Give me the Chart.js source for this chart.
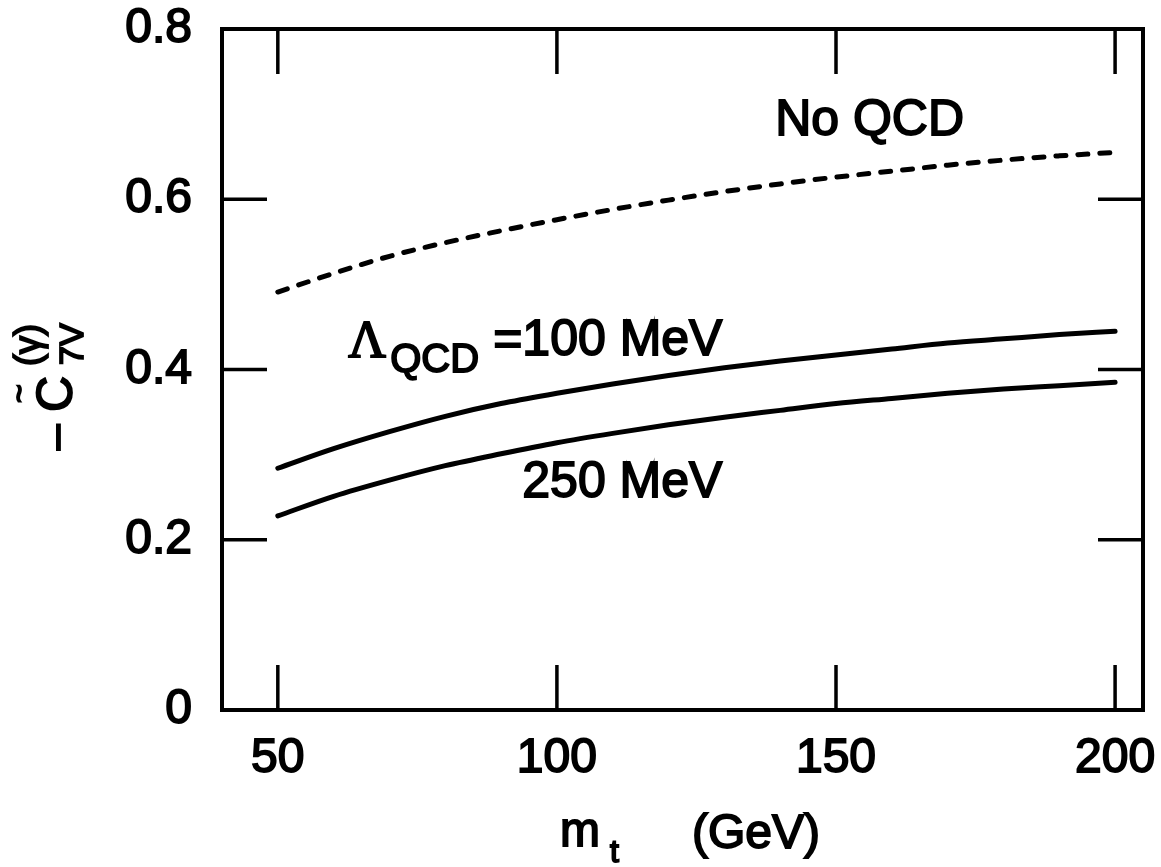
<!DOCTYPE html>
<html><head><meta charset="utf-8">
<script src="https://cdn.jsdelivr.net/npm/chart.js@4.4.0/dist/chart.umd.min.js"></script>
<style>html,body{margin:0;padding:0;background:#fff;}#wrap{width:1161px;height:867px;}</style>
</head><body><div id="wrap"><canvas id="c" width="1161" height="867"></canvas></div>
<script>
// ---- data ----
const mt        = [50, 60, 70, 80, 90, 100, 110, 120, 130, 140, 150, 160, 170, 180, 190, 200];
const noQCD     = [0.491, 0.513, 0.533, 0.549, 0.563, 0.576, 0.588, 0.599, 0.609, 0.618, 0.626, 0.633, 0.640, 0.646, 0.651, 0.655];
const lam100    = [0.284, 0.307, 0.327, 0.345, 0.360, 0.372, 0.383, 0.393, 0.402, 0.410, 0.417, 0.424, 0.431, 0.436, 0.441, 0.445];
const lam250    = [0.228, 0.251, 0.270, 0.287, 0.301, 0.314, 0.325, 0.335, 0.344, 0.352, 0.360, 0.366, 0.372, 0.377, 0.381, 0.385];
const xTicks    = [50, 100, 150, 200];
const yTicks    = [0, 0.2, 0.4, 0.6, 0.8];
const xLabels   = ['50', '100', '150', '200'];
const yLabels   = ['0', '0.2', '0.4', '0.6', '0.8'];

const FONT = '"Liberation Sans", Arial, Helvetica, sans-serif';
const pts = arr => mt.map((x, i) => ({x: x, y: arr[i]}));
const STROKE = 1.8;

const framePlugin = {
  id: 'frame',
  afterDraw(chart) {
    const ctx = chart.ctx, a = chart.chartArea;
    const xs = chart.scales.x, ys = chart.scales.y;
    ctx.save();
    ctx.strokeStyle = '#000';
    ctx.lineWidth = 4;
    ctx.strokeRect(a.left, a.top, a.right - a.left, a.bottom - a.top);
    ctx.lineWidth = 3.5;
    const L = 45;
    ctx.beginPath();
    xTicks.forEach(v => {
      const p = xs.getPixelForValue(v);
      ctx.moveTo(p, a.bottom); ctx.lineTo(p, a.bottom - L);
      ctx.moveTo(p, a.top); ctx.lineTo(p, a.top + L);
    });
    yTicks.forEach(v => {
      if (v <= ys.min || v >= ys.max) return;
      const p = ys.getPixelForValue(v);
      ctx.moveTo(a.left, p); ctx.lineTo(a.left + L, p);
      ctx.moveTo(a.right, p); ctx.lineTo(a.right - L, p);
    });
    ctx.stroke();

    const txt = (s, x, y, size, fam) => {
      ctx.font = size + 'px ' + (fam || FONT);
      ctx.fillText(s, x, y);
      ctx.lineWidth = STROKE;
      ctx.strokeText(s, x, y);
    };
    ctx.fillStyle = '#000';
    ctx.textBaseline = 'alphabetic';
    ctx.textAlign = 'left';

    // curve labels
    txt('No QCD', xs.getPixelForValue(139.1), ys.getPixelForValue(0.675), 50);
    const lx = xs.getPixelForValue(62.6), ly = ys.getPixelForValue(0.415);
    txt('\u039B', lx, ly, 52, '"Liberation Serif", "DejaVu Serif", serif');
    txt('QCD', lx + 42, ly + 15, 40);
    txt('=100 MeV', lx + 145, ly - 2, 50);
    txt('250 MeV', xs.getPixelForValue(93.8), ys.getPixelForValue(0.250), 50);

    // x axis title
    txt('m', 560, 846, 48);
    txt('t', 610, 862, 32);
    txt('(GeV)', 692, 848, 48);

    // y axis title (rotated)
    ctx.save();
    ctx.translate(72, 450);
    ctx.rotate(-Math.PI / 2);
    txt('\u2013', 0, -2, 46);
    txt('C', 38, 0, 50);
    txt('~', 47, -42, 32);
    txt('7V', 85, 11, 34);
    txt('(\u03B3)', 84, -32, 36);
    ctx.restore();
    ctx.restore();
  }
};

new Chart(document.getElementById('c'), {
  type: 'line',
  data: {
    datasets: [
      {label: 'No QCD', data: pts(noQCD), borderColor: '#000', borderWidth: 5, borderDash: [10, 12], borderCapStyle: 'round', pointRadius: 0, fill: false, cubicInterpolationMode: 'monotone'},
      {label: '100 MeV', data: pts(lam100), borderColor: '#000', borderWidth: 5, borderCapStyle: 'round', pointRadius: 0, fill: false, cubicInterpolationMode: 'monotone'},
      {label: '250 MeV', data: pts(lam250), borderColor: '#000', borderWidth: 5, borderCapStyle: 'round', pointRadius: 0, fill: false, cubicInterpolationMode: 'monotone'}
    ]
  },
  options: {
    responsive: false,
    devicePixelRatio: 1,
    animation: false,
    layout: {padding: {left: 0, top: 29, right: 18, bottom: 0}},
    plugins: {legend: {display: false}, tooltip: {enabled: false}},
    scales: {
      x: {
        type: 'linear', min: 40, max: 205,
        afterBuildTicks: s => { s.ticks = xTicks.map(v => ({value: v})); },
        afterFit: s => { s.height = 157; s.paddingLeft = 0; s.paddingRight = 0; s.paddingTop = 0; s.paddingBottom = 0; },
        grid: {display: false, drawTicks: false},
        border: {display: false},
        ticks: {
          autoSkip: false, maxRotation: 0, padding: 20, color: '#000',
          font: {family: FONT, size: 48},
          textStrokeColor: '#000', textStrokeWidth: STROKE,
          callback: (v) => xLabels[xTicks.indexOf(v)]
        }
      },
      y: {
        type: 'linear', min: 0, max: 0.8,
        afterBuildTicks: s => { s.ticks = yTicks.map(v => ({value: v})); },
        afterFit: s => { s.width = 222; s.paddingLeft = 0; s.paddingRight = 0; s.paddingTop = 0; s.paddingBottom = 0; },
        grid: {display: false, drawTicks: false},
        border: {display: false},
        ticks: {
          autoSkip: false, padding: 30, color: '#000',
          font: {family: FONT, size: 48},
          textStrokeColor: '#000', textStrokeWidth: STROKE,
          callback: (v) => yLabels[yTicks.indexOf(v)]
        }
      }
    }
  },
  plugins: [framePlugin]
});
</script></body></html>
